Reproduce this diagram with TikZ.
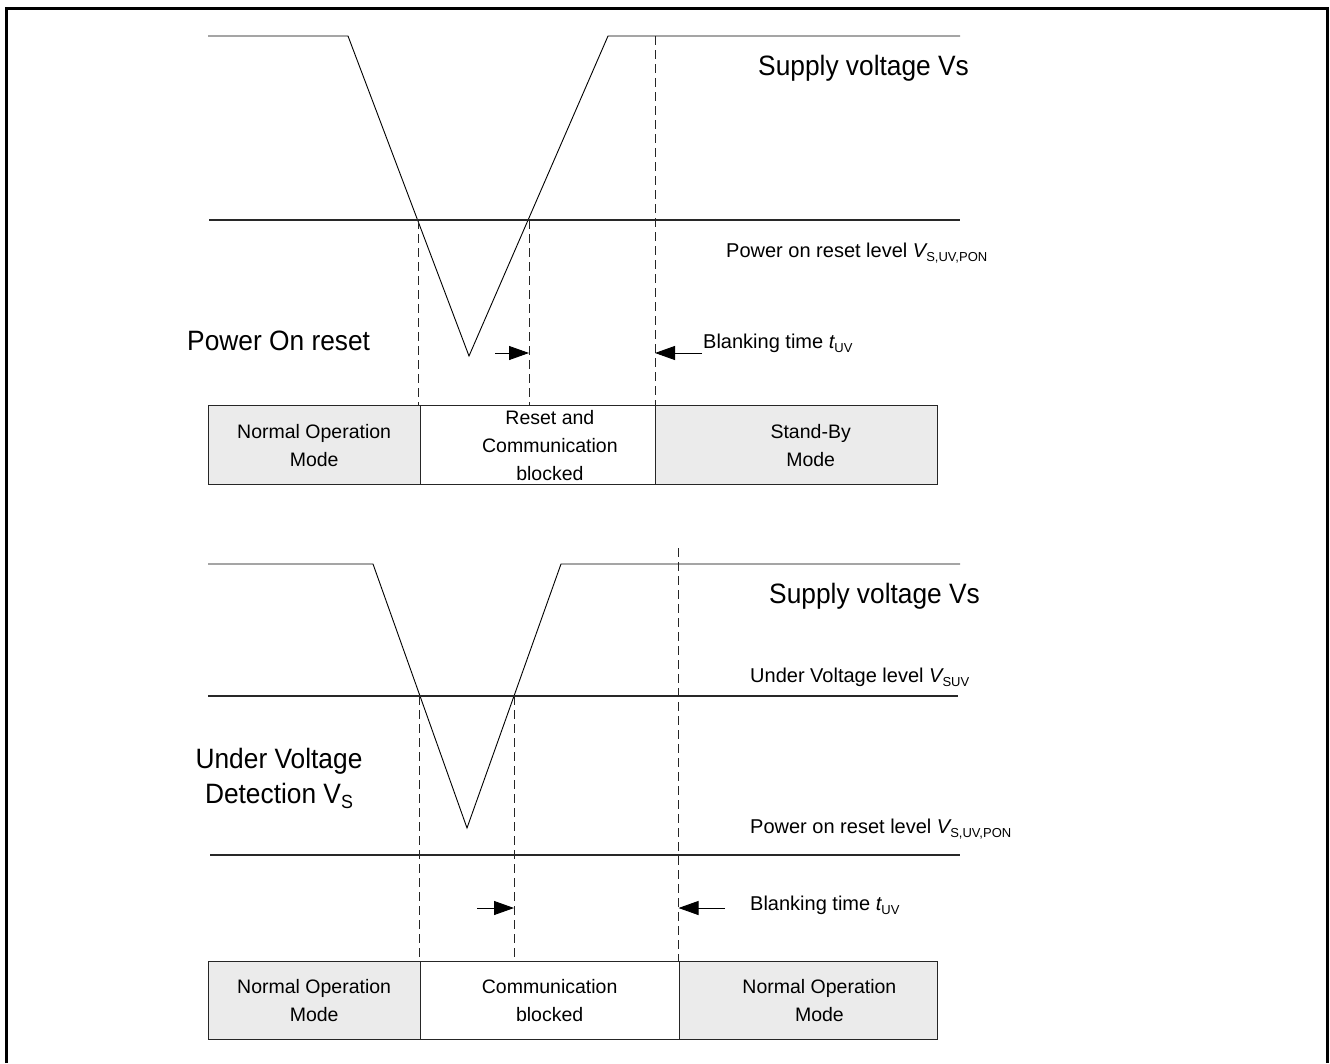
\documentclass[tikz,border=0pt]{standalone}
\usepackage{fontspec}
\setmainfont{Liberation Sans}
\newfontfamily\bigfam[FakeStretch=0.94]{Liberation Sans}
\usetikzlibrary{arrows.meta}
\definecolor{boxgray}{RGB}{235,235,235}
\definecolor{lvl}{RGB}{40,40,40}
\newcommand{\lsub}[1]{\raisebox{-0.2em}{\fontsize{13}{13}\selectfont #1}}
\newcommand{\bsub}[1]{\raisebox{-0.2em}{\fontsize{19}{19}\selectfont #1}}
\begin{document}
\begin{tikzpicture}[x=1pt,y=-1pt,
  wave/.style={line width=0.9pt},
  level/.style={line width=1.3pt, draw=lvl},
  guide/.style={line width=0.9pt, dash pattern=on 9pt off 5pt, draw=black!85},
  arr/.style={line width=0.9pt, -{Triangle[length=20pt,width=14pt]}},
  boxtext/.style={align=center, font=\fontsize{19.5}{28}\selectfont, inner sep=0pt},
  modebox/.style={draw=black!85, line width=1.3pt, minimum height=79pt, inner sep=0pt,
     anchor=north west, boxtext},
  biglabel/.style={font=\bigfam\fontsize{28}{35}\selectfont, inner sep=0pt},
  smalllabel/.style={font=\fontsize{20}{24}\selectfont, inner sep=0pt, anchor=base west}
]
\useasboundingbox (0,0) rectangle (1330,1063);
% outer frame (open at bottom)
\draw[line width=3.3pt] (6.5,1063) -- (6.5,8.3) -- (1327.5,8.3) -- (1327.5,1063);

% ---------------- top diagram ----------------
\coordinate (a0) at (208,36);
\coordinate (a1) at (348,36);
\coordinate (a2) at (469,356);
\coordinate (a3) at (608,36);
\coordinate (a4) at (960,36);
\draw[wave] (a0) -- (a1) -- (a2) -- (a3) -- (a4);
\coordinate (l1a) at (209,220);
\coordinate (l1b) at (960,220);
\draw[level] (l1a) -- (l1b);

% mode boxes top
\node[modebox, fill=boxgray, minimum width=212pt] (n1) at (207.5,405) {Normal Operation\\Mode};
\node[modebox, fill=white, minimum width=235.5pt,
  label={[boxtext, xshift=12pt]center:Reset and\\Communication\\blocked}] (n2) at (419.5,405) {};
\node[modebox, fill=boxgray, minimum width=282pt,
  label={[boxtext, xshift=14pt]center:Stand-By\\Mode}] (n3) at (655,405) {};

% guides top
\coordinate (g1t) at (418,220);
\coordinate (g2t) at (529,220);
\coordinate (g3t) at (655,36);
\draw[guide] (g1t) -- (g1t |- n1.north);
\draw[guide] (g2t) -- (g2t |- n2.north);
\draw[guide] (g3t) -- (n3.north west);

% arrows top
\coordinate (r1s) at (495,353);
\coordinate (r1e) at (529,353);
\coordinate (b1s) at (702,353);
\coordinate (b1e) at (655,353);
\draw[arr] (r1s) -- (r1e);
\draw[arr] (b1s) -- (b1e);

% labels top
\node[biglabel, anchor=base west] (sv1) at (758,75) {Supply voltage Vs};
\node[smalllabel] (pl1) at (726,257) {Power on reset level {\itshape V}\lsub{S,UV,PON}};
\node[biglabel, anchor=base west] (por) at (187,350) {Power On reset};
\node[smalllabel] (bt1) at (703,348) {Blanking time {\itshape t}\lsub{UV}};

% ---------------- bottom diagram ----------------
\coordinate (c0) at (208,564);
\coordinate (c1) at (373,564);
\coordinate (c2) at (467,828);
\coordinate (c3) at (561,564);
\coordinate (c4) at (960,564);
\draw[wave] (c0) -- (c1) -- (c2) -- (c3) -- (c4);
\coordinate (u1a) at (208,696);
\coordinate (u1b) at (958,696);
\draw[level] (u1a) -- (u1b);
\coordinate (p2a) at (210,855);
\coordinate (p2b) at (960,855);
\draw[level] (p2a) -- (p2b);

% mode boxes bottom
\node[modebox, fill=boxgray, minimum width=212pt, minimum height=78pt] (n4) at (207.5,961) {Normal Operation\\Mode};
\node[modebox, fill=white, minimum width=259pt, minimum height=78pt] (n5) at (419.5,961) {Communication\\blocked};
\node[modebox, fill=boxgray, minimum width=258.5pt, minimum height=78pt,
  label={[boxtext, xshift=11pt]center:Normal Operation\\Mode}] (n6) at (678.5,961) {};

% guides bottom
\coordinate (g4t) at (419.5,696);
\coordinate (g5t) at (514,696);
\coordinate (g6t) at (678.5,548);
\draw[guide] (g4t) -- (n5.north west);
\draw[guide] (g5t) -- (g5t |- n5.north);
\draw[guide] (g6t) -- (n6.north west);

% arrows bottom
\coordinate (r2s) at (477,908);
\coordinate (r2e) at (514,908);
\coordinate (b2s) at (725,908);
\coordinate (b2e) at (678.5,908);
\draw[arr] (r2s) -- (r2e);
\draw[arr] (b2s) -- (b2e);

% labels bottom
\node[biglabel, anchor=base west] (sv2) at (769,603) {Supply voltage Vs};
\node[smalllabel] (uv) at (750,682) {Under Voltage level {\itshape V}\lsub{SUV}};
\node[smalllabel] (pl2) at (750,833) {Power on reset level {\itshape V}\lsub{S,UV,PON}};
\node[smalllabel] (bt2) at (750,910) {Blanking time {\itshape t}\lsub{UV}};
\node[biglabel, align=center, anchor=base] (uvd) at (279,803) {Under Voltage\\Detection V\bsub{S}};
\end{tikzpicture}
\end{document}
